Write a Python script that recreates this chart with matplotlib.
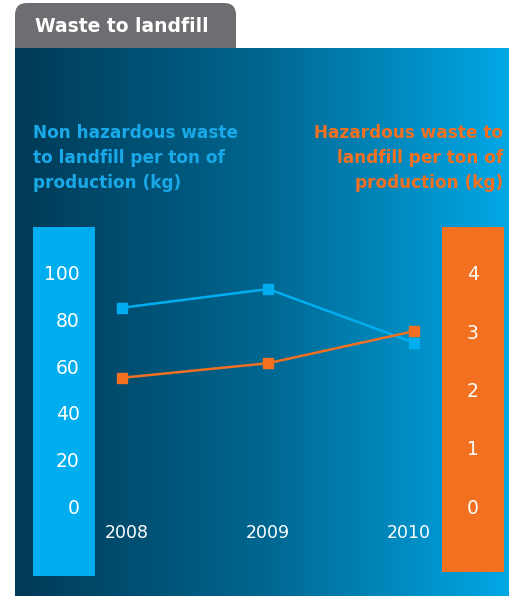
import numpy as np
import matplotlib
matplotlib.use("Agg")
import matplotlib.pyplot as plt
import matplotlib.transforms as mtransforms
from matplotlib.colors import LinearSegmentedColormap
from matplotlib.patches import FancyBboxPatch, Rectangle

years = [2008, 2009, 2010]
non_hazardous = [85, 93, 70]      # kg per ton, left axis
hazardous = [2.2, 2.45, 3.0]      # kg per ton, right axis
left_ticks = [0, 20, 40, 60, 80, 100]
right_ticks = [0, 1, 2, 3, 4]

BLUE = "#00aeef"
ORANGE = "#f37021"
GREY = "#6d6e71"

W, H = 510, 596
fig = plt.figure(figsize=(W / 100, H / 100), dpi=100)

# background layer in pixel coordinates
bg = fig.add_axes([0, 0, 1, 1])
bg.set_xlim(0, W)
bg.set_ylim(H, 0)
bg.axis("off")

grad = LinearSegmentedColormap.from_list("g", ["#003a56", "#006690", "#00a8e6"])

bg.add_patch(FancyBboxPatch((15, 3), 221, 60, boxstyle="round,pad=0,rounding_size=12",
                            fc=GREY, ec="none", zorder=1))
bg.imshow(np.linspace(0, 1, 256)[None, :], cmap=grad, aspect="auto",
          extent=[15, W, H, 48], zorder=2)
bg.text(35, 26, "Waste to landfill", color="white", fontsize=13.5,
        fontweight="bold", va="center", ha="left", zorder=3)

bg.add_patch(Rectangle((33, 227), 62, 349, fc=BLUE, ec="none", zorder=3))
bg.add_patch(Rectangle((442, 227), 62, 345, fc=ORANGE, ec="none", zorder=3))

bg.text(33, 124, "Non hazardous waste\nto landfill per ton of\nproduction (kg)",
        color="#1aa9e8", fontsize=12.2, fontweight="bold", ha="left", va="top",
        linespacing=1.5, zorder=3)
bg.text(503, 124, "Hazardous waste to\nlandfill per ton of\nproduction (kg)",
        color=ORANGE, fontsize=12.2, fontweight="bold", ha="right", va="top",
        linespacing=1.5, multialignment="right", zorder=3)

# data axes: x from 95 to 442 px, y from 227 to 520 px
ax = fig.add_axes([95 / W, 1 - 520 / H, (442 - 95) / W, (520 - 227) / H])
ax.patch.set_alpha(0)
ax.set_xlim(2007.813, 2010.19)
ax.set_ylim(-6, 119.6)
ax.plot(years, non_hazardous, color=BLUE, lw=1.8, marker="s", ms=6.5)
ax.set_xticks(years)
ax.set_yticks(left_ticks)
ax.tick_params(axis="both", length=0, colors="white")
ax.tick_params(axis="y", labelsize=13.5, pad=11)
ax.tick_params(axis="x", labelsize=12.5, pad=3)
for s in ax.spines.values():
    s.set_visible(False)

# nudge year labels like the original layout
for lab, dx in zip(ax.get_xticklabels(), [4, 0, -6]):
    lab.set_transform(lab.get_transform() +
                      mtransforms.ScaledTranslation(dx / 100, 0, fig.dpi_scale_trans))

ax2 = ax.twinx()
ax2.patch.set_alpha(0)
ax2.set_ylim(-0.240, 4.786)
ax2.plot(years, hazardous, color=ORANGE, lw=1.8, marker="s", ms=6.5)
ax2.set_yticks(right_ticks)
ax2.tick_params(axis="y", length=0, colors="white", labelsize=13.5, pad=18)
for s in ax2.spines.values():
    s.set_visible(False)

fig.savefig("out.png", dpi=100)
